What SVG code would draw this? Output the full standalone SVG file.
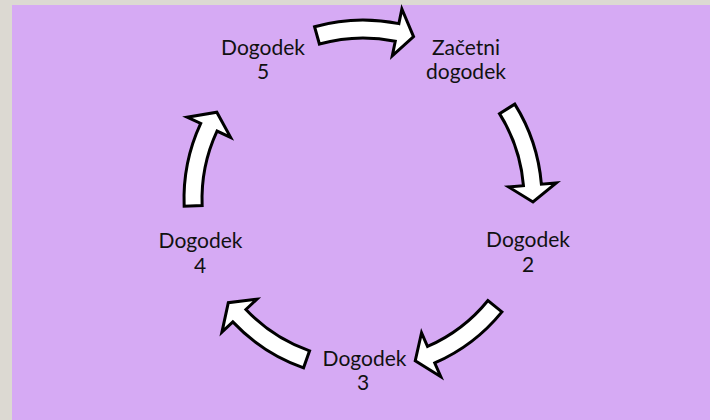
<svg xmlns="http://www.w3.org/2000/svg" xmlns:xlink="http://www.w3.org/1999/xlink" width="710" height="420" viewBox="0 0 710 420">
<style>
.arrow{fill:#ffffff;stroke:#000000;stroke-width:3;stroke-linejoin:miter}
.lbl{font-family:Lato,"Open Sans","Liberation Sans",sans-serif;font-size:21px;fill:#111111;text-anchor:middle}
</style>
<defs>
<path id="cyc" d="M150.1,-97.5 A179,179 0 0 1 178.1,-17.9 L193,-19.4 L170,0 L145.3,-14.6 L160.2,-16.1 A161,161 0 0 0 135,-87.7 Z"/>
</defs>
<rect x="0" y="0" width="710" height="420" fill="#dcd9d2"/>
<rect x="12" y="5" width="698" height="415" fill="#d6aaf4"/>
<g id="connectors">
<use xlink:href="#cyc" class="arrow" transform="translate(363,199) rotate(287.3)"/>
<use xlink:href="#cyc" class="arrow" transform="translate(363,199) rotate(1)"/>
<use xlink:href="#cyc" class="arrow" transform="translate(363,199) rotate(72.1)"/>
<use xlink:href="#cyc" class="arrow" transform="translate(363,199) rotate(142.4)"/>
<use xlink:href="#cyc" class="arrow" transform="translate(363,199) rotate(210.7)"/>
</g>
<g id="node1"><text class="lbl" x="466" y="55">Začetni</text><text class="lbl" x="466" y="79">dogodek</text></g>
<g id="node2"><text class="lbl" x="528" y="247">Dogodek</text><text class="lbl" x="528" y="272">2</text></g>
<g id="node3"><text class="lbl" x="364.5" y="366">Dogodek</text><text class="lbl" x="363" y="390">3</text></g>
<g id="node4"><text class="lbl" x="200.5" y="248">Dogodek</text><text class="lbl" x="200" y="273">4</text></g>
<g id="node5"><text class="lbl" x="263" y="54.5">Dogodek</text><text class="lbl" x="263" y="79">5</text></g>
</svg>
